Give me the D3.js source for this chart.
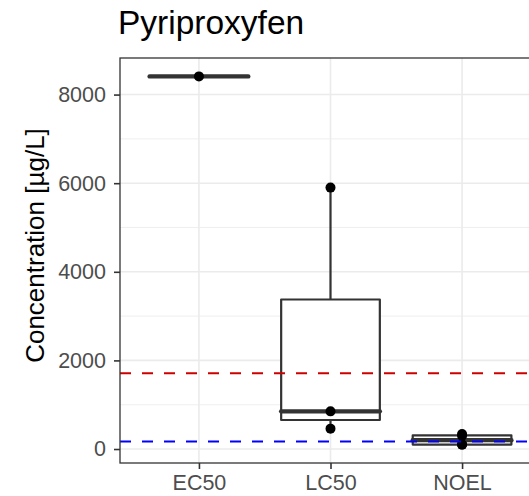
<!DOCTYPE html>
<html>
<head>
<meta charset="utf-8">
<script src="https://cdn.jsdelivr.net/npm/d3@7"></script>
<style>
  body { margin: 0; background: #fff; }
  text { font-family: "Liberation Sans", Arial, sans-serif; }
</style>
</head>
<body>
<div class="d3"></div>
<script>
const categories = ["EC50", "LC50", "NOEL"];
const ec50Values = [8410];
const lc50Values = [460, 850, 5900];
const noelValues = [100, 100, 300, 340];
const yTicks = [0, 2000, 4000, 6000, 8000];
const yMinorTicks = [1000, 3000, 5000, 7000];
const thresholds = [
    { value: 1710, color: "#CD0000" },
    { value: 170, color: "#0000FF" }
];

function main() {
    const width = 529;
    const height = 496;
    const panel = { left: 120, top: 58, right: 541, bottom: 463 };

    const groups = [ec50Values, lc50Values, noelValues];

    const svg = d3.select(".d3")
        .append("svg")
        .attr("width", width)
        .attr("height", height);

    // continuous y with ggplot-like 5% expansion
    const all = groups.flat();
    const lo = d3.min(all), hi = d3.max(all);
    const pad = (hi - lo) * 0.05;
    const y = d3.scaleLinear()
        .domain([lo - pad, hi + pad])
        .range([panel.bottom, panel.top]);

    // discrete x, positions 1..n with 0.6 expansion
    const x = d3.scaleLinear()
        .domain([0.4, categories.length + 0.6])
        .range([panel.left, panel.right]);
    const step = x(2) - x(1);
    const boxW = step * 0.75;

    const g = svg.append("g");

    // grid
    g.selectAll(".minor").data(yMinorTicks).enter().append("line")
        .attr("x1", panel.left).attr("x2", panel.right)
        .attr("y1", d => y(d)).attr("y2", d => y(d))
        .attr("stroke", "#EBEBEB").attr("stroke-width", 0.8);
    g.selectAll(".major").data(yTicks).enter().append("line")
        .attr("x1", panel.left).attr("x2", panel.right)
        .attr("y1", d => y(d)).attr("y2", d => y(d))
        .attr("stroke", "#EBEBEB").attr("stroke-width", 1.6);
    g.selectAll(".vmajor").data(categories).enter().append("line")
        .attr("x1", (d, i) => x(i + 1)).attr("x2", (d, i) => x(i + 1))
        .attr("y1", panel.top).attr("y2", panel.bottom)
        .attr("stroke", "#EBEBEB").attr("stroke-width", 1.6);

    // boxplots
    groups.forEach(function (vals, i) {
        const s = vals.slice().sort(d3.ascending);
        const q1 = d3.quantile(s, 0.25);
        const med = d3.quantile(s, 0.5);
        const q3 = d3.quantile(s, 0.75);
        const iqr = q3 - q1;
        const wLo = d3.min(s.filter(v => v >= q1 - 1.5 * iqr));
        const wHi = d3.max(s.filter(v => v <= q3 + 1.5 * iqr));
        const cx = x(i + 1);
        const bg = g.append("g");
        bg.append("line")
            .attr("x1", cx).attr("x2", cx)
            .attr("y1", y(q3)).attr("y2", y(wHi))
            .attr("stroke", "#333").attr("stroke-width", 2.2);
        bg.append("line")
            .attr("x1", cx).attr("x2", cx)
            .attr("y1", y(q1)).attr("y2", y(wLo))
            .attr("stroke", "#333").attr("stroke-width", 2.2);
        bg.append("rect")
            .attr("x", cx - boxW / 2).attr("width", boxW)
            .attr("y", y(q3)).attr("height", Math.max(0, y(q1) - y(q3)))
            .attr("fill", "#fff")
            .attr("stroke", "#333").attr("stroke-width", 2.2)
            .attr("stroke-linejoin", "round");
        bg.append("line")
            .attr("x1", cx - boxW / 2).attr("x2", cx + boxW / 2)
            .attr("y1", y(med)).attr("y2", y(med))
            .attr("stroke", "#333").attr("stroke-width", 4.4)
            .attr("stroke-linecap", "round");

        bg.selectAll("circle").data(s).enter().append("circle")
            .attr("cx", cx).attr("cy", d => y(d))
            .attr("r", 5).attr("fill", "#000");
    });

    // threshold lines
    g.selectAll(".thr").data(thresholds).enter().append("line")
        .attr("x1", panel.left).attr("x2", panel.right)
        .attr("y1", d => y(d.value)).attr("y2", d => y(d.value))
        .attr("stroke", d => d.color).attr("stroke-width", 2)
        .attr("stroke-dasharray", "11,11");

    // panel border
    svg.append("rect")
        .attr("x", panel.left).attr("y", panel.top)
        .attr("width", panel.right - panel.left)
        .attr("height", panel.bottom - panel.top)
        .attr("fill", "none").attr("stroke", "#333").attr("stroke-width", 1.3);

    // axes
    const yAxis = svg.append("g")
        .attr("transform", "translate(" + panel.left + ",0)")
        .call(d3.axisLeft(y).tickValues(yTicks).tickSize(6).tickPadding(8).tickFormat(d3.format("d")));
    const xAxis = svg.append("g")
        .attr("transform", "translate(0," + panel.bottom + ")")
        .call(d3.axisBottom(x).tickValues([1, 2, 3]).tickSize(6).tickPadding(6)
            .tickFormat((d, i) => categories[i]));
    [yAxis, xAxis].forEach(function (ax) {
        ax.select(".domain").remove();
        ax.selectAll(".tick line").attr("stroke", "#333").attr("stroke-width", 1.6);
        ax.selectAll(".tick text").attr("fill", "#4D4D4D")
            .style("font-size", "21.5px");
    });

    // titles
    svg.append("text")
        .attr("x", 118).attr("y", 34)
        .style("font-size", "33.5px")
        .attr("fill", "#000")
        .text("Pyriproxyfen");

    svg.append("text")
        .attr("transform", "translate(44,245.5) rotate(-90)")
        .attr("text-anchor", "middle")
        .style("font-size", "26px")
        .attr("fill", "#000")
        .text("Concentration [µg/L]");
}

main();
</script>
</body>
</html>
